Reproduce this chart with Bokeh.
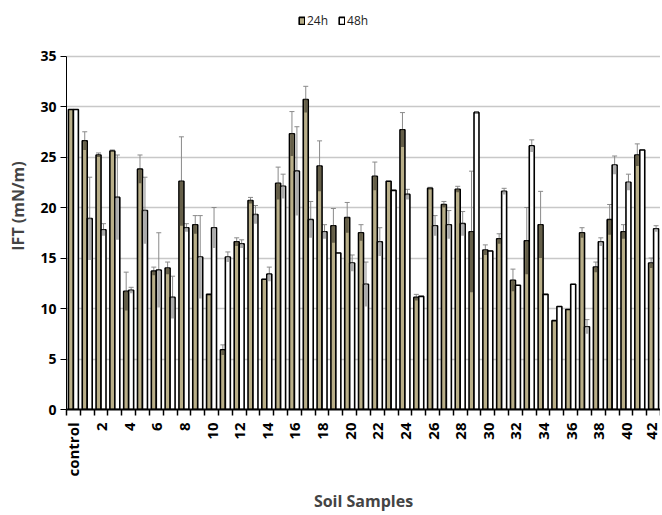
import math
from bokeh.plotting import figure
from bokeh.models import (ColumnDataSource, FixedTicker, Whisker, TeeHead,
                          Legend, LegendItem)
from bokeh.transform import dodge
from bokeh.embed import file_html
from bokeh.resources import INLINE

categories = ["control"] + [str(i) for i in range(1, 43)]

ift_24h = [29.7, 26.6, 25.2, 25.6, 11.7, 23.8, 13.7, 14.0, 22.6, 18.3,
           11.4, 5.9, 16.6, 20.7, 12.9, 22.4, 27.3, 30.7, 24.1, 18.2,
           19.0, 17.5, 23.1, 22.6, 27.7, 11.1, 21.9, 20.3, 21.8, 17.6,
           15.8, 16.9, 12.8, 16.7, 18.3, 8.8, 9.9, 17.5, 14.1, 18.8,
           17.6, 25.2, 14.5]
err_24h = [0.0, 0.9, 0.2, 0.1, 1.9, 1.4, 0.4, 0.6, 4.4, 0.9,
           0.0, 0.5, 0.4, 0.3, 0.0, 1.6, 2.2, 1.3, 2.5, 1.7,
           1.5, 0.8, 1.4, 0.0, 1.7, 0.3, 0.1, 0.3, 0.3, 6.0,
           0.5, 0.5, 1.1, 3.3, 3.3, 0.0, 0.0, 0.5, 0.5, 1.5,
           0.7, 1.1, 0.5]

ift_48h = [29.7, 18.9, 17.8, 21.0, 11.8, 19.7, 13.8, 11.1, 18.0, 15.1,
           18.0, 15.1, 16.4, 19.3, 13.4, 22.1, 23.6, 18.8, 17.6, 15.5,
           14.5, 12.4, 16.6, 21.7, 21.3, 11.2, 18.2, 18.3, 18.4, 29.4,
           15.7, 21.6, 12.3, 26.1, 11.4, 10.2, 12.4, 8.2, 16.6, 24.2,
           22.5, 25.7, 17.9]
err_48h = [0.0, 4.1, 0.6, 4.2, 0.3, 3.3, 3.7, 2.1, 0.4, 4.1,
           2.0, 0.5, 0.4, 0.9, 0.7, 1.2, 4.4, 1.8, 0.7, 0.0,
           0.8, 2.2, 1.4, 0.0, 0.5, 0.0, 1.0, 1.4, 1.2, 0.1,
           0.0, 0.3, 0.0, 0.6, 0.0, 0.0, 0.0, 0.7, 0.4, 0.9,
           0.8, 0.0, 0.3]

y_ticks = [0, 5, 10, 15, 20, 25, 30, 35]
series_names = ["24h", "48h"]

FONT = "Open Sans"
c24 = "#b8ae88"
c24_err = "#5c5743"
c48 = "#ffffff"
c48_err = "#a3a3a3"

idx = list(range(len(categories)))
src = ColumnDataSource(dict(
    x=idx,
    v24=ift_24h, e24=err_24h,
    lo24=[v - e for v, e in zip(ift_24h, err_24h)],
    hi24=[v + e for v, e in zip(ift_24h, err_24h)],
    v48=ift_48h, e48=err_48h,
    lo48=[v - e for v, e in zip(ift_48h, err_48h)],
    hi48=[v + e for v, e in zip(ift_48h, err_48h)],
))

# extra headroom above 35 holds the legend inside the frame
p = figure(width=660, height=514, x_range=(-0.5, len(categories) - 0.5),
           y_range=(0, 40.3), output_backend="svg", toolbar_location=None,
           min_border_left=66, min_border_right=0, min_border_top=2,
           min_border_bottom=100)
p.outline_line_color = None
p.background_fill_color = "white"
p.xgrid.grid_line_color = None
p.ygrid.grid_line_color = "#c8c8c8"
p.ygrid.grid_line_width = 1.3
p.ygrid.ticker = FixedTicker(ticks=y_ticks)

off = 0.18
w = 0.36
r24 = p.vbar(x=dodge("x", -off), top="v24", width=w, source=src,
             fill_color=c24, line_color="black", line_width=1.6)
p.vbar(x=dodge("x", -off), bottom="lo24", top="v24", width=w * 0.62,
       source=src, fill_color=c24_err, line_color=None, fill_alpha=0.9)
r48 = p.vbar(x=dodge("x", off), top="v48", width=w, source=src,
             fill_color=c48, line_color="black", line_width=1.6)
p.vbar(x=dodge("x", off), bottom="lo48", top="v48", width=w * 0.62,
       source=src, fill_color=c48_err, line_color=None, fill_alpha=0.9)

for xo, lo, hi in [(-off, "v24", "hi24"), (off, "v48", "hi48")]:
    wh = Whisker(base=dodge("x", xo), lower=lo, upper=hi, source=src,
                 line_color="#8a8a8a", line_width=1,
                 upper_head=TeeHead(size=5, line_color="#8a8a8a", line_width=1),
                 lower_head=None)
    p.add_layout(wh)

# y axis
p.yaxis.ticker = FixedTicker(ticks=y_ticks)
p.yaxis.bounds = (0, 35)
p.yaxis.axis_line_color = "black"
p.yaxis.axis_line_width = 1
p.yaxis.major_tick_out = 6
p.yaxis.major_tick_in = 0
p.yaxis.minor_tick_line_color = None
p.yaxis.major_label_text_font = FONT
p.yaxis.major_label_text_font_style = "bold"
p.yaxis.major_label_text_font_size = "14px"
p.yaxis.major_label_text_color = "black"
p.yaxis.major_label_standoff = 4
p.yaxis.axis_label = "IFT (mN/m)"
p.yaxis.axis_label_text_font = FONT
p.yaxis.axis_label_text_font_style = "bold"
p.yaxis.axis_label_text_font_size = "16px"
p.yaxis.axis_label_standoff = 8

# x axis
p.xaxis.ticker = FixedTicker(ticks=idx[::2],
                             minor_ticks=[i - 0.5 for i in range(len(categories) + 1)])
p.xaxis.major_label_overrides = {i: categories[i] for i in idx[::2]}
p.xaxis.major_label_orientation = math.pi / 2
p.xaxis.major_tick_line_color = None
p.xaxis.minor_tick_line_color = "black"
p.xaxis.minor_tick_line_width = 1.5
p.xaxis.minor_tick_out = 6
p.xaxis.minor_tick_in = 0
p.xaxis.axis_line_color = "black"
p.xaxis.axis_line_width = 1.8
p.xaxis.major_label_text_font = FONT
p.xaxis.major_label_text_font_style = "bold"
p.xaxis.major_label_text_font_size = "15px"
p.xaxis.major_label_text_color = "black"
p.xaxis.major_label_standoff = 7
p.xaxis.axis_label = "Soil Samples"
p.xaxis.axis_label_text_font = FONT
p.xaxis.axis_label_text_font_style = "bold"
p.xaxis.axis_label_text_font_size = "16px"
p.xaxis.axis_label_standoff = 10

legend = Legend(items=[LegendItem(label=series_names[0], renderers=[r24]),
                       LegendItem(label=series_names[1], renderers=[r48])],
                orientation="horizontal", location=(232, 380),
                glyph_width=7, glyph_height=9, label_height=14,
                label_standoff=2, spacing=10, padding=0, margin=0,
                label_text_font=FONT, label_text_font_size="12px",
                label_text_color="#222222",
                border_line_color=None, background_fill_alpha=0)
p.add_layout(legend)

open("out.html", "w").write(file_html(p, INLINE))
